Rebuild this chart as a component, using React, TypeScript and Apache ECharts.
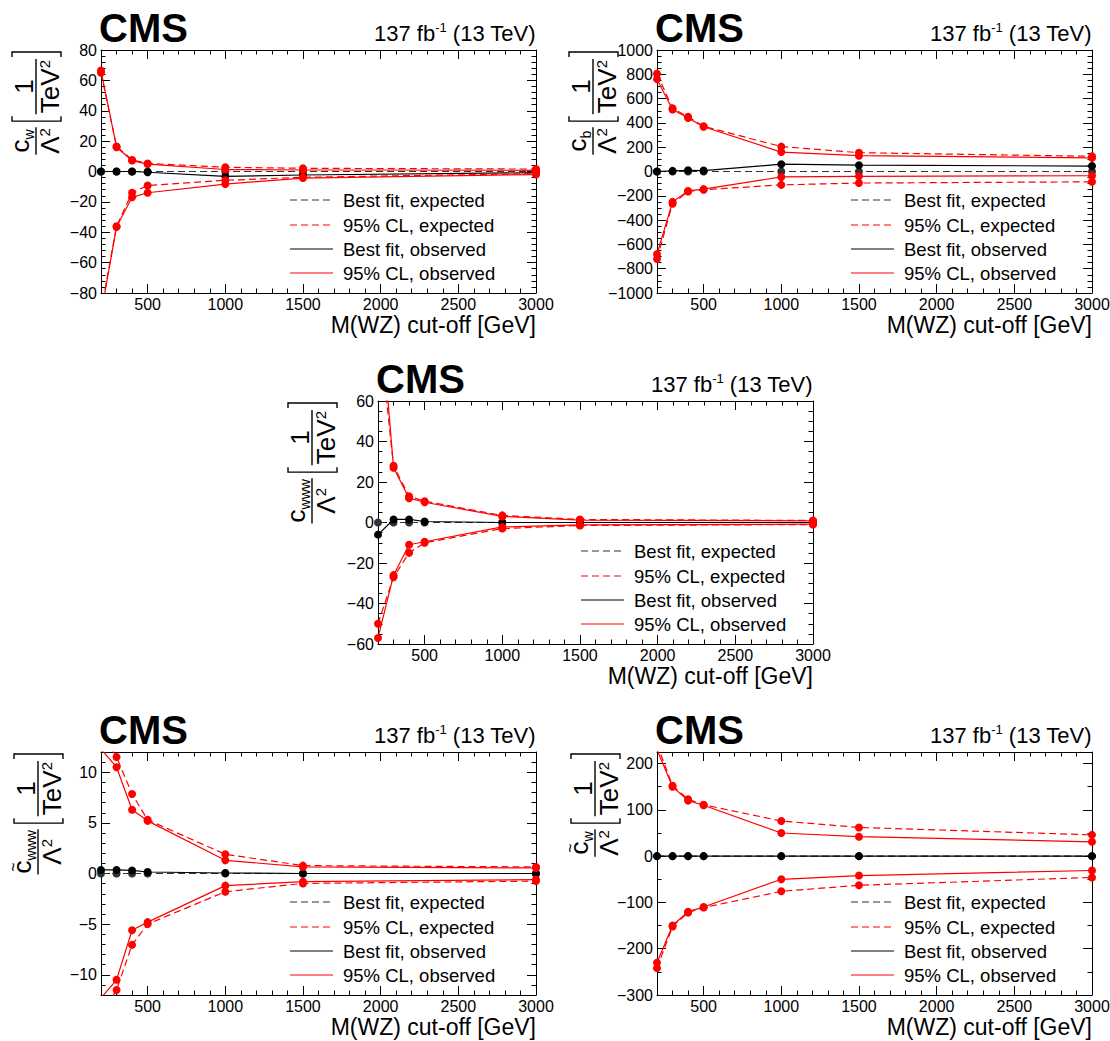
import React, { useEffect, useRef } from 'react';
import * as echarts from 'echarts';

// ---------------- data ----------------
const M_CUTOFF = [200, 300, 400, 500, 1000, 1500, 3000];
const X_TICKS = [500, 1000, 1500, 2000, 2500, 3000];

// c_W / Lambda^2
const CW_BEST_EXP = [0, 0, 0, 0, 0, 0, 0];
const CW_BEST_OBS = [0, 0, 0, -0.5, -3.2, -2.3, -0.8];
const CW_UP_EXP = [65, 16.5, 7.6, 5.3, 2.8, 2.1, 1.6];
const CW_UP_OBS = [66.5, 16, 7.2, 4.9, 1.3, 1.0, 0.8];
const CW_LO_EXP = [-92, -36, -14, -9.2, -5.8, -3.8, -1.4];
const CW_LO_OBS = [-94, -36.5, -17, -14, -8.3, -4.3, -2];
const CW_Y_TICKS = [-80, -60, -40, -20, 0, 20, 40, 60, 80];

// c_b / Lambda^2
const CB_BEST_EXP = [0, 0, 0, 0, 0, 0, 0];
const CB_BEST_OBS = [0, 5, 10, 8, 60, 52, 45];
const CB_UP_EXP = [805, 520, 450, 372, 205, 155, 125];
const CB_UP_OBS = [760, 510, 440, 368, 160, 130, 112];
const CB_LO_EXP = [-720, -265, -165, -150, -110, -95, -85];
const CB_LO_OBS = [-680, -250, -160, -145, -45, -40, -35];
const CB_Y_TICKS = [-1000, -800, -600, -400, -200, 0, 200, 400, 600, 800, 1000];

// c_www / Lambda^2
const CWWW_BEST_EXP = [0, 0, 0, 0, 0, 0, 0];
const CWWW_BEST_OBS = [-6, 1.5, 1.5, 0.5, 0, 0, 0];
const CWWW_UP_EXP = [100, 28, 13, 10.5, 3.5, 1.5, 1.0];
const CWWW_UP_OBS = [120, 27, 12, 10, 3, 1.2, 0.8];
const CWWW_LO_EXP = [-50, -27, -15, -10, -3, -1.5, -1.0];
const CWWW_LO_OBS = [-57, -26, -11, -9.5, -2.2, -1.2, -0.8];
const CWWW_Y_TICKS = [-60, -40, -20, 0, 20, 40, 60];

// c~_www / Lambda^2
const CTWWW_BEST_EXP = [0, 0, 0, 0, 0, 0, 0];
const CTWWW_BEST_OBS = [0.35, 0.35, 0.3, 0.15, 0.05, 0, 0];
const CTWWW_UP_EXP = [14, 11.5, 7.85, 5.3, 1.9, 0.78, 0.65];
const CTWWW_UP_OBS = [12.3, 10.5, 6.3, 5.2, 1.3, 0.65, 0.55];
const CTWWW_LO_EXP = [-14, -11.5, -7.05, -5.0, -1.8, -0.98, -0.75];
const CTWWW_LO_OBS = [-12.3, -10.5, -5.6, -4.8, -1.2, -0.8, -0.6];
const CTWWW_Y_TICKS = [-10, -5, 0, 5, 10];

// c~_w / Lambda^2
const CTW_BEST_EXP = [0, 0, 0, 0, 0, 0, 0];
const CTW_BEST_OBS = [0, 0, 0, 0, 0, 0, 0];
const CTW_UP_EXP = [242, 152, 123, 111, 76, 62, 46];
const CTW_UP_OBS = [230, 150, 120, 110, 50, 42, 31];
const CTW_LO_EXP = [-242, -152, -122, -111, -76, -63, -46];
const CTW_LO_OBS = [-230, -150, -120, -110, -50, -42, -31];
const CTW_Y_TICKS = [-300, -200, -100, 0, 100, 200];

const LEGEND_LABELS = ['Best fit, expected', '95% CL, expected', 'Best fit, observed', '95% CL, observed'];

// ---------------- layout / style ----------------
const W = 435;
const H = 243;
const FONT = '"Liberation Sans", Arial, Helvetica, sans-serif';
const RED = '#ff0000';
const DASH = [7, 4];

const PANELS = [
  {
    left: 101, top: 50, sub: 'w', tilde: false, yMin: -80, yMax: 80, yTicks: CW_Y_TICKS, yMinor: 4, legDx: 193, ytDx: 65,
    d: { be: CW_BEST_EXP, bo: CW_BEST_OBS, ue: CW_UP_EXP, uo: CW_UP_OBS, le: CW_LO_EXP, lo: CW_LO_OBS },
  },
  {
    left: 657, top: 50, sub: 'b', tilde: false, yMin: -1000, yMax: 1000, yTicks: CB_Y_TICKS, yMinor: 50, legDx: 188, ytDx: 64,
    d: { be: CB_BEST_EXP, bo: CB_BEST_OBS, ue: CB_UP_EXP, uo: CB_UP_OBS, le: CB_LO_EXP, lo: CB_LO_OBS },
  },
  {
    left: 378, top: 401, sub: 'www', tilde: false, yMin: -60, yMax: 60, yTicks: CWWW_Y_TICKS, yMinor: 5, legDx: 179, ytDx: 66,
    d: { be: CWWW_BEST_EXP, bo: CWWW_BEST_OBS, ue: CWWW_UP_EXP, uo: CWWW_UP_OBS, le: CWWW_LO_EXP, lo: CWWW_LO_OBS },
  },
  {
    left: 101, top: 752, sub: 'www', tilde: true, yMin: -12, yMax: 12, yTicks: CTWWW_Y_TICKS, yMinor: 1, legDx: 193, ytDx: 63,
    d: { be: CTWWW_BEST_EXP, bo: CTWWW_BEST_OBS, ue: CTWWW_UP_EXP, uo: CTWWW_UP_OBS, le: CTWWW_LO_EXP, lo: CTWWW_LO_OBS },
  },
  {
    left: 657, top: 752, sub: 'w', tilde: true, yMin: -300, yMax: 225, yTicks: CTW_Y_TICKS, yMinor: 50, legDx: 188, ytDx: 62,
    d: { be: CTW_BEST_EXP, bo: CTW_BEST_OBS, ue: CTW_UP_EXP, uo: CTW_UP_OBS, le: CTW_LO_EXP, lo: CTW_LO_OBS },
  },
];

let measureCtx: CanvasRenderingContext2D | null = null;
function tw(text: string, size: number, weight = 'normal'): number {
  if (!measureCtx) measureCtx = document.createElement('canvas').getContext('2d');
  measureCtx!.font = `${weight} ${size}px "Liberation Sans", Arial, sans-serif`;
  return measureCtx!.measureText(text).width;
}

const fmt = (v: number) => (v < 0 ? '\u2212' + Math.abs(v) : String(v));

function txt(x: number, y: number, text: string, size: number, align = 'left', weight = 'normal', extra: any = {}) {
  return {
    type: 'text', x, y, silent: true,
    style: { text, fontSize: size, fontFamily: FONT, fontWeight: weight, fill: '#000', align, verticalAlign: 'middle', ...extra },
  };
}

// center y for text whose baseline is at b
const cy = (b: number, size: number) => b - 0.35 * size;

function yTitle(p: any) {
  const F = 26, SUB = 14, SUP = 15;
  const children: any[] = [];
  const stroke = { stroke: '#000', lineWidth: 1.4, fill: 'none' };
  const bTop = -24, bBot = 25;
  // closing bracket "]"
  children.push({ type: 'polyline', shape: { points: [[-6, bTop], [-1, bTop], [-1, bBot], [-6, bBot]] }, style: stroke });
  // fraction 1 / TeV^2
  let x = -8;
  const wTeV = tw('TeV', F), w2 = tw('2', SUP);
  let w = Math.max(tw('1', F), wTeV + w2) + 2;
  let xR = x, xL = x - w, xc = (xL + xR) / 2;
  children.push({ type: 'line', shape: { x1: xL, y1: 0, x2: xR, y2: 0 }, style: { stroke: '#000', lineWidth: 1.4 } });
  children.push(txt(xc, cy(-3, F), '1', F, 'center'));
  const tStart = xc - (wTeV + w2) / 2;
  children.push(txt(tStart, cy(23, F), 'TeV', F, 'left'));
  children.push(txt(tStart + wTeV, cy(14, SUP), '2', SUP, 'left'));
  // opening bracket "["
  x = xL - 2;
  children.push({ type: 'polyline', shape: { points: [[x, bTop], [x - 5, bTop], [x - 5, bBot], [x, bBot]] }, style: stroke });
  x = x - 5 - 6;
  // fraction c_sub / Lambda^2
  const wc = tw('c', F), ws = tw(p.sub, SUB), wL = tw('\u039b', F);
  w = Math.max(wc + ws, wL + w2) + 2;
  xR = x; xL = x - w; xc = (xL + xR) / 2;
  children.push({ type: 'line', shape: { x1: xL, y1: 0, x2: xR, y2: 0 }, style: { stroke: '#000', lineWidth: 1.4 } });
  const nStart = xc - (wc + ws) / 2;
  children.push(txt(nStart, cy(-7, F), 'c', F, 'left'));
  children.push(txt(nStart + wc, cy(-2, SUB), p.sub, SUB, 'left'));
  if (p.tilde) children.push(txt(nStart + wc / 2, -25, '~', 16, 'center'));
  const dStart = xc - (wL + w2) / 2;
  children.push(txt(dStart, cy(23, F), '\u039b', F, 'left'));
  children.push(txt(dStart + wL, cy(14, SUP), '2', SUP, 'left'));
  return { type: 'group', x: p.left - p.ytDx, y: p.top + 1, rotation: Math.PI / 2, silent: true, children };
}

function buildOption() {
  const grid: any[] = [], xAxis: any[] = [], yAxis: any[] = [], series: any[] = [], graphic: any[] = [];
  const tickStyle = { color: '#000', width: 1 };
  PANELS.forEach((p, i) => {
    const right = p.left + W, bottom = p.top + H;
    grid.push({ left: p.left, top: p.top, width: W, height: H, outerBoundsMode: 'none', containLabel: false });
    const xb = { type: 'value', gridIndex: i, min: 200, max: 3000, splitLine: { show: false }, axisLine: { show: true, onZero: false, lineStyle: { color: '#000', width: 1 } } };
    xAxis.push({ ...xb, position: 'bottom', axisTick: { inside: true, length: 9, customValues: X_TICKS, lineStyle: tickStyle }, axisLabel: { customValues: X_TICKS, formatter: fmt, fontSize: 16, color: '#000', fontFamily: FONT, margin: 3 } });
    xAxis.push({ ...xb, position: 'bottom', interval: 100, axisLine: { show: false, onZero: false }, axisTick: { inside: true, length: 4.5, lineStyle: tickStyle }, axisLabel: { show: false } });
    xAxis.push({ ...xb, position: 'top', axisTick: { inside: true, length: 9, customValues: X_TICKS, lineStyle: tickStyle }, axisLabel: { show: false } });
    xAxis.push({ ...xb, position: 'top', interval: 100, axisLine: { show: false, onZero: false }, axisTick: { inside: true, length: 4.5, lineStyle: tickStyle }, axisLabel: { show: false } });
    const yb = { type: 'value', gridIndex: i, min: p.yMin, max: p.yMax, splitLine: { show: false }, axisLine: { show: true, onZero: false, lineStyle: { color: '#000', width: 1 } } };
    yAxis.push({ ...yb, position: 'left', axisTick: { inside: true, length: 9, customValues: p.yTicks, lineStyle: tickStyle }, axisLabel: { customValues: p.yTicks, formatter: fmt, fontSize: 16, color: '#000', fontFamily: FONT, margin: 4 } });
    yAxis.push({ ...yb, position: 'left', interval: p.yMinor, axisLine: { show: false, onZero: false }, axisTick: { inside: true, length: 4.5, lineStyle: tickStyle }, axisLabel: { show: false } });
    yAxis.push({ ...yb, position: 'right', axisTick: { inside: true, length: 9, customValues: p.yTicks, lineStyle: tickStyle }, axisLabel: { show: false } });
    yAxis.push({ ...yb, position: 'right', interval: p.yMinor, axisLine: { show: false, onZero: false }, axisTick: { inside: true, length: 4.5, lineStyle: tickStyle }, axisLabel: { show: false } });

    const mk = (vals: number[], color: string, dashed: boolean, z: number) => ({
      type: 'line', xAxisIndex: i * 4, yAxisIndex: i * 4, silent: true, clip: true, z,
      data: M_CUTOFF.map((x, k) => [x, vals[k]]),
      symbol: 'circle', symbolSize: 8, showSymbol: true,
      lineStyle: { color, width: 1.2, type: dashed ? DASH : 'solid' },
      itemStyle: { color },
      emphasis: { disabled: true },
    });
    series.push(mk(p.d.be, '#333', true, 2));
    series.push(mk(p.d.bo, '#000', false, 3));
    series.push(mk(p.d.ue, RED, true, 4));
    series.push(mk(p.d.le, RED, true, 4));
    series.push(mk(p.d.uo, RED, false, 5));
    series.push(mk(p.d.lo, RED, false, 5));

    // CMS label
    graphic.push(txt(p.left - 2, cy(p.top - 8, 40), 'CMS', 40, 'left', 'bold'));
    // lumi label
    const LF = 22, LS = 13;
    const a = '137 fb', s = '-1', b = ' (13 TeV)';
    const wa = tw(a, LF), wsup = tw(s, LS), wb = tw(b, LF);
    const x0 = right - (wa + wsup + wb);
    const base = p.top - 9;
    graphic.push(txt(x0, cy(base, LF), a, LF));
    graphic.push(txt(x0 + wa, cy(base - 9, LS), s, LS));
    graphic.push(txt(x0 + wa + wsup, cy(base, LF), b, LF));
    // x title
    graphic.push(txt(right, cy(bottom + 40, 23), 'M(WZ) cut-off [GeV]', 23, 'right'));
    // y title
    graphic.push(yTitle(p));
    // legend
    const rows = [-93, -68, -44, -20];
    const lstyles = [
      { stroke: '#333', lineDash: DASH },
      { stroke: RED, lineDash: DASH },
      { stroke: '#000', lineDash: null },
      { stroke: RED, lineDash: null },
    ];
    rows.forEach((dy, k) => {
      const yy = bottom + dy;
      const tx = right - p.legDx;
      graphic.push({ type: 'line', silent: true, shape: { x1: tx - 53, y1: yy, x2: tx - 10, y2: yy }, style: { stroke: lstyles[k].stroke, lineWidth: 1.2, lineDash: lstyles[k].lineDash } });
      graphic.push(txt(tx, yy, LEGEND_LABELS[k], 18.5, 'left'));
    });
  });
  return { animation: false, backgroundColor: '#fff', grid, xAxis, yAxis, series, graphic };
}

export default function App() {
  const ref = useRef<HTMLDivElement>(null);
  useEffect(() => {
    const chart = echarts.init(ref.current!, null, { renderer: 'svg' });
    chart.setOption(buildOption() as any);
    return () => chart.dispose();
  }, []);
  return <div ref={ref} style={{ position: 'absolute', left: 0, top: 0, width: 1110, height: 1041, background: '#fff' }} />;
}
